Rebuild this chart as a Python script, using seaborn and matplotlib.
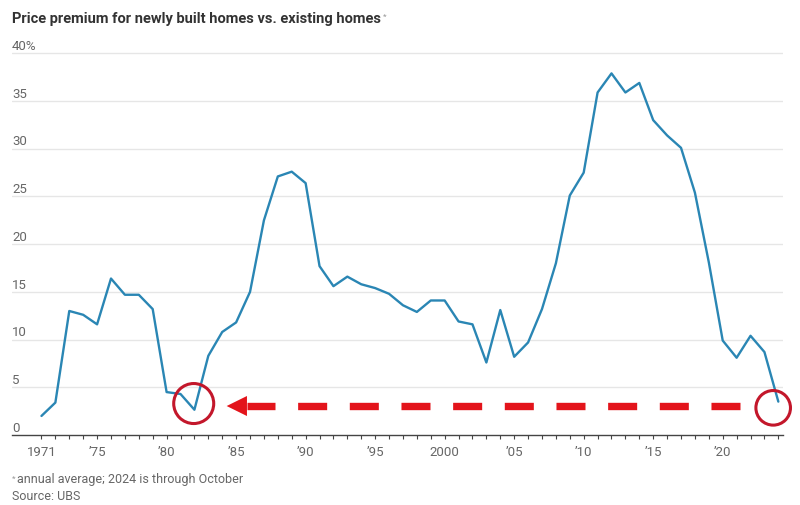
import numpy as np
import matplotlib
matplotlib.use("Agg")
import matplotlib.pyplot as plt
from matplotlib.patches import Polygon
import seaborn as sns

# data (annual average premium, %)
years = list(range(1971, 2025))
premium = [2.0, 3.4, 13.0, 12.6, 11.6, 16.4, 14.7, 14.7, 13.2, 4.5,
           4.3, 2.65, 8.3, 10.8, 11.8, 15.0, 22.5, 27.1, 27.6, 26.4,
           17.7, 15.6, 16.6, 15.8, 15.4, 14.8, 13.6, 12.9, 14.1, 14.1,
           11.9, 11.6, 7.6, 13.1, 8.2, 9.7, 13.2, 18.0, 25.1, 27.5,
           35.9, 37.9, 35.9, 36.9, 33.0, 31.4, 30.1, 25.4, 18.1, 9.9,
           8.1, 10.4, 8.7, 3.5]

y_ticks = [0, 5, 10, 15, 20, 25, 30, 35, 40]
y_labels = ["0", "5", "10", "15", "20", "25", "30", "35", "40%"]
x_major = [1971, 1975, 1980, 1985, 1990, 1995, 2000, 2005, 2010, 2015, 2020]
x_labels = ["1971", "\u201975", "\u201980", "\u201985", "\u201990", "\u201995",
            "2000", "\u201905", "\u201910", "\u201915", "\u201920"]

title = "Price premium for newly built homes vs. existing homes"
note = "annual average; 2024 is through October"
source = "Source: UBS"

# highlighted points (the 1982 low and the latest reading)
low_year, last_year = 1982, 2024

sns.set_theme(style="white")
plt.rcParams['font.family'] = ['Roboto', 'DejaVu Sans']
plt.rcParams['lines.scale_dashes'] = False

LINE = "#2a86b4"
GREY = "#666666"
RED = "#e3141b"
CIRCLE = "#c3172b"

fig = plt.figure(figsize=(8, 5.06), dpi=100)
ax = fig.add_axes([0.015, 0.1383, 0.964, 0.7637])

sns.lineplot(x=years, y=premium, ax=ax, color=LINE, linewidth=1.7)

ax.set_xlim(1968.88, 2024.35)
ax.set_ylim(0, 40.5)

# gridlines + y labels sitting on top of them
for v, lab in zip(y_ticks, y_labels):
    if v > 0:
        ax.axhline(v, color="#e6e6e6", linewidth=1.0, zorder=0)
    ax.annotate(lab, xy=(0, v), xycoords=("axes fraction", "data"),
                xytext=(0, 1.0), textcoords="offset points",
                ha="left", va="bottom", fontsize=9.5, color=GREY)
ax.set_yticks([])

for s in ["top", "right", "left"]:
    ax.spines[s].set_visible(False)
ax.spines["bottom"].set_color("#444444")
ax.spines["bottom"].set_linewidth(1.0)

ax.set_xticks(x_major)
ax.set_xticklabels(x_labels)
ax.set_xticks(years, minor=True)
ax.tick_params(axis="x", which="both", direction="out", length=3, width=0.8,
               color="#444444", bottom=True, labelsize=9.5, labelcolor=GREY, pad=4)
ax.set_xlabel("")
ax.set_ylabel("")

# red annotation: circles around the two lows and a dashed arrow between them
i_low = years.index(low_year)
i_last = years.index(last_year)
ax.scatter([low_year - 0.05], [premium[i_low] + 0.65], s=830, facecolors="none",
           edgecolors=CIRCLE, linewidths=2.2, zorder=5, clip_on=False)
ax.scatter([last_year - 0.37], [premium[i_last] - 0.65], s=620, facecolors="none",
           edgecolors=CIRCLE, linewidths=2.2, zorder=5, clip_on=False)

arrow_y = 3.04
tail_x = last_year - 2.75
head_base = low_year + 3.78
head_tip = low_year + 2.32
ax.plot([tail_x, head_base], [arrow_y, arrow_y], color=RED, linewidth=5.3,
        dashes=(20.9, 16.3), solid_capstyle="butt", zorder=6)
ax.add_patch(Polygon([[head_tip, arrow_y], [head_base, arrow_y + 1.05],
                      [head_base, arrow_y - 1.05]], closed=True,
                     facecolor=RED, edgecolor="none", zorder=6))

# title and footnotes
t = fig.text(0.015, 0.9545, title, fontsize=10.5, fontweight="bold",
             color="#333333", ha="left", va="baseline")
fig.canvas.draw()
bb = t.get_window_extent()
fig.text((bb.x1 + 2) / fig.bbox.width, 0.962, "*", fontsize=6, color="#999999",
         ha="left", va="baseline")
fig.text(0.015, 0.049, "*", fontsize=6, color="#999999", ha="left", va="baseline")
fig.text(0.021, 0.0455, note, fontsize=9, color=GREY, ha="left", va="baseline")
fig.text(0.015, 0.0119, source, fontsize=9, color=GREY, ha="left", va="baseline")

fig.savefig("out.png", dpi=100)
